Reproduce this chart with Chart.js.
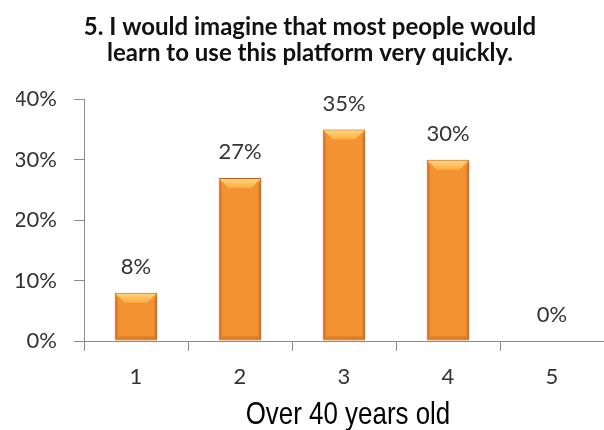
<!DOCTYPE html>
<html>
<head>
<meta charset="utf-8">
<script src="https://cdn.jsdelivr.net/npm/chart.js@4"></script>
<style>
  html, body { margin: 0; padding: 0; background: #fff; }
  #wrap { width: 604px; height: 430px; }
</style>
</head>
<body>
<div id="wrap"><canvas id="chart"></canvas></div>
<script>
// Survey answers, respondents over 40
const categories = ['1', '2', '3', '4', '5'];
const shares = [8, 27, 35, 30, 0];
const yTicks = [0, 10, 20, 30, 40];
const titleLines = ['5. I would imagine that most people would', 'learn to use this platform very quickly.'];
const axisTitle = 'Over 40 years old';

const AXIS_GREY = '#8c8c8c';
const TEXT = '#333';

// Vertical orange gradient, lighter at the top of each bar
function barFill(ctx) {
    const bar = ctx.element;
    if (!bar || bar.base === undefined || bar.base === bar.y) return '#f39232';
    const g = ctx.chart.ctx.createLinearGradient(0, bar.y, 0, bar.base);
    g.addColorStop(0, '#fd9a2e');
    g.addColorStop(0.6, '#f38b26');
    g.addColorStop(1, '#e0761e');
    return g;
}

// Soft drop shadow under the bars
const barShadow = {
    id: 'barShadow',
    beforeDatasetsDraw(chart) {
        const c = chart.ctx;
        c.save();
        c.shadowColor = 'rgba(0,0,0,0.25)';
        c.shadowBlur = 4;
        c.shadowOffsetX = 2;
        c.shadowOffsetY = 1;
    },
    afterDatasetsDraw(chart) {
        chart.ctx.restore();
    }
};

function quad(c, pts, fill) {
    c.fillStyle = fill;
    c.beginPath();
    c.moveTo(pts[0][0], pts[0][1]);
    for (let k = 1; k < pts.length; k++) c.lineTo(pts[k][0], pts[k][1]);
    c.closePath();
    c.fill();
}

// Bevelled edges on each bar, value labels and the x axis caption
const bevelAndLabels = {
    id: 'bevelAndLabels',
    afterDatasetsDraw(chart) {
        const c = chart.ctx;
        const meta = chart.getDatasetMeta(0);
        meta.data.forEach((bar, i) => {
            const h = bar.base - bar.y;
            const l = bar.x - bar.width / 2 + 1;
            const r = bar.x + bar.width / 2 - 1;
            const t = bar.y + 1;
            const btm = bar.base - 1;
            if (h > 4) {
                const b = Math.min(9, h / 2);
                const s = 3;
                c.save();
                // sides
                const lg = c.createLinearGradient(l, 0, l + s, 0);
                lg.addColorStop(0, 'rgba(160,70,10,0.45)');
                lg.addColorStop(1, 'rgba(160,70,10,0)');
                quad(c, [[l, t], [l + s, t + b], [l + s, btm - s], [l, btm]], lg);
                const rg = c.createLinearGradient(r, 0, r - s, 0);
                rg.addColorStop(0, 'rgba(160,70,10,0.5)');
                rg.addColorStop(1, 'rgba(160,70,10,0)');
                quad(c, [[r, t], [r - s, t + b], [r - s, btm - s], [r, btm]], rg);
                // bottom
                quad(c, [[l, btm], [r, btm], [r - s, btm - s], [l + s, btm - s]], 'rgba(150,65,10,0.25)');
                // top highlight
                const tg = c.createLinearGradient(0, t, 0, t + b);
                tg.addColorStop(0, '#ffd57a');
                tg.addColorStop(1, '#fdab40');
                quad(c, [[l, t], [r, t], [r - b, t + b], [l + b, t + b]], tg);
                c.restore();
            }
            c.save();
            c.fillStyle = TEXT;
            c.font = '22px Lato';
            c.textAlign = 'center';
            c.textBaseline = 'alphabetic';
            c.fillText(shares[i] + '%', bar.x, bar.y - 19);
            c.restore();
        });

        // condensed caption under the category labels
        const xs = chart.scales.x;
        c.save();
        c.fillStyle = '#000';
        c.font = '32px "Liberation Sans", Arial, sans-serif';
        c.textAlign = 'center';
        c.textBaseline = 'alphabetic';
        c.translate((xs.left + xs.right) / 2 + 4, xs.bottom - 6);
        c.scale(0.81, 1);
        c.fillText(axisTitle, 0, 0);
        c.restore();
    }
};

const ctx = document.getElementById('chart').getContext('2d');
const chart = new Chart(ctx, {
    type: 'bar',
    data: {
        labels: categories,
        datasets: [{
            data: shares,
            backgroundColor: barFill,
            borderColor: '#c0661c',
            borderWidth: 1,
            categoryPercentage: 1,
            barPercentage: 0.41
        }]
    },
    plugins: [barShadow, bevelAndLabels],
    options: {
        responsive: true,
        maintainAspectRatio: false,
        animation: false,
        layout: { padding: { left: 16, right: 0, top: 0, bottom: 0 } },
        plugins: {
            legend: { display: false },
            tooltip: { enabled: false },
            title: {
                display: true,
                text: titleLines,
                color: '#111',
                font: { family: 'Lato', weight: 'bold', size: 24, lineHeight: 1.05 },
                padding: { top: 15, bottom: 34 }
            }
        },
        scales: {
            x: {
                afterFit(scale) { scale.height = 89; },
                grid: {
                    drawOnChartArea: false,
                    drawTicks: true,
                    tickLength: 10,
                    color: AXIS_GREY
                },
                border: { color: AXIS_GREY },
                ticks: {
                    color: TEXT,
                    padding: 13,
                    font: { family: 'Lato', size: 22 }
                }
            },
            y: {
                min: 0,
                max: 40,
                afterFit(scale) { scale.width = 68; },
                afterBuildTicks(scale) {
                    scale.ticks = yTicks.map(v => ({ value: v }));
                },
                grid: {
                    drawOnChartArea: false,
                    drawTicks: true,
                    tickLength: 10,
                    color: AXIS_GREY
                },
                border: { color: AXIS_GREY },
                ticks: {
                    color: TEXT,
                    padding: 17,
                    font: { family: 'Lato', size: 22 },
                    callback: v => v + '%'
                }
            }
        }
    }
});
</script>
</body>
</html>
